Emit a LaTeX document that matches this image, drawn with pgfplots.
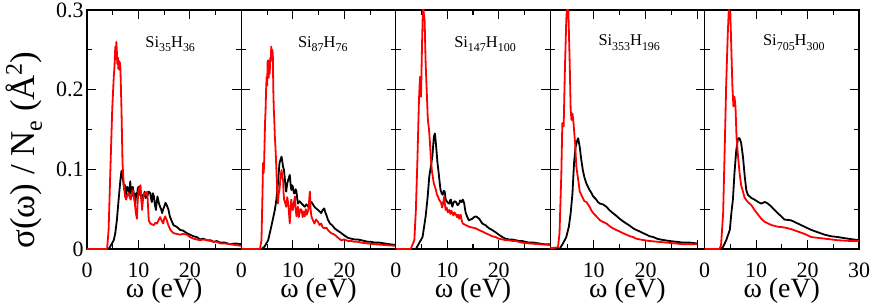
\documentclass[border=0pt]{standalone}
\usepackage{fontspec}
\setmainfont{Liberation Serif}
\newfontfamily\tnr{Liberation Serif}
\usepackage{pgfplots}
\pgfplotsset{compat=1.18}
\newcommand{\sub}[1]{\raisebox{-4.5bp}{\fontsize{12}{12}\selectfont #1}}
\pgfplotsset{panel/.style={
  scale only axis, width=154.4bp, height=239bp,
  xmin=0, xmax=30, ymin=0, ymax=0.3,
  xtick={0,10,20,30}, minor xtick={5,15,25},
  ytick={0,0.1,0.2,0.3}, minor ytick={0.05,0.15,0.25},
  yticklabels={},
  tick align=inside, major tick length=9bp, minor tick length=5bp,
  axis line style={line width=1.1bp},
  every tick/.style={black, line width=1.1bp},
  tick label style={font=\tnr\fontsize{22}{24}\selectfont},
  /pgf/number format/assume math mode=true,
  xticklabel style={anchor=base, yshift=-28bp},
  xlabel={\tnr ω (eV)},
  xlabel style={font=\tnr\fontsize{28}{30}\selectfont, at={(axis description cs:0.5,0)}, anchor=base, yshift=-48bp},
  anchor=south west,
  every axis plot/.append style={line width=1.8bp, line join=round},
}}
\begin{document}
\begin{tikzpicture}
% ---------- panel 1
\begin{axis}[panel, at={(0bp,0bp)},
  xticklabels={0,10,20,{}},
  yticklabels={0,0.1,0.2,0.3},
  ylabel={\tnr σ(ω) / N\raisebox{-7bp}{\fontsize{24}{24}\selectfont e} (Å\raisebox{13bp}{\fontsize{24}{24}\selectfont 2})},
  ylabel style={font=\tnr\fontsize{35}{38}\selectfont, at={(rel axis cs:-0.337,0.414)}, anchor=base},
]
\addplot[black] coordinates {(0,0) (4.2,0) (4.5,0.003) (5.2,0.011) (5.5,0.02) (5.8,0.036) (6.2,0.066) (6.5,0.087) (6.7,0.098) (7.0,0.087) (7.25,0.074) (7.4,0.08) (7.6,0.068) (7.85,0.078) (8.1,0.074) (8.25,0.07) (8.4,0.085) (8.55,0.072) (8.7,0.066) (8.9,0.078) (9.1,0.07) (9.25,0.062) (9.4,0.057) (9.55,0.07) (9.7,0.066) (9.85,0.075) (10.0,0.078) (10.2,0.068) (10.4,0.072) (10.55,0.064) (10.7,0.057) (10.85,0.068) (11.0,0.066) (11.2,0.072) (11.4,0.064) (11.7,0.066) (12.0,0.072) (12.3,0.07) (12.45,0.063) (12.6,0.059) (12.8,0.07) (13.0,0.066) (13.2,0.055) (13.4,0.049) (13.55,0.06) (13.7,0.066) (13.95,0.058) (14.2,0.053) (14.4,0.05) (14.6,0.045) (14.8,0.05) (15.0,0.053) (15.25,0.058) (15.5,0.055) (15.8,0.05) (16.1,0.041) (16.4,0.036) (16.8,0.030) (17.4,0.028) (18.1,0.024) (18.7,0.023) (19.4,0.020) (20.0,0.018) (20.7,0.016) (21.3,0.015) (22.0,0.012) (22.6,0.013) (23.3,0.011) (24.0,0.011) (24.6,0.009) (25.2,0.010) (25.9,0.008) (26.8,0.008) (27.8,0.006) (28.8,0.007) (30,0.006)};
\addplot[red] coordinates {(0,0) (3.9,0) (4.2,0.024) (4.5,0.09) (4.9,0.175) (5.2,0.216) (5.35,0.23) (5.5,0.254) (5.6,0.238) (5.7,0.26) (5.8,0.248) (5.9,0.232) (6.0,0.24) (6.1,0.226) (6.2,0.236) (6.3,0.225) (6.4,0.234) (6.5,0.226) (6.6,0.2) (6.7,0.175) (6.9,0.108) (7.1,0.085) (7.25,0.074) (7.4,0.066) (7.6,0.062) (7.85,0.068) (8.1,0.07) (8.3,0.065) (8.5,0.062) (8.7,0.07) (8.9,0.074) (9.1,0.066) (9.3,0.057) (9.5,0.045) (9.7,0.038) (9.85,0.06) (10.0,0.074) (10.2,0.078) (10.4,0.08) (10.55,0.065) (10.7,0.049) (10.85,0.06) (11.0,0.066) (11.15,0.07) (11.3,0.07) (11.5,0.068) (11.7,0.072) (11.85,0.055) (12.0,0.036) (12.3,0.032) (12.6,0.031) (13.0,0.030) (13.3,0.033) (13.6,0.032) (13.9,0.036) (14.2,0.040) (14.5,0.036) (14.8,0.032) (15.0,0.038) (15.2,0.041) (15.5,0.036) (15.8,0.03) (16.2,0.024) (16.5,0.022) (16.8,0.020) (17.4,0.019) (18.1,0.018) (18.7,0.019) (19.4,0.018) (20.0,0.015) (20.7,0.013) (21.3,0.012) (22.0,0.011) (22.6,0.012) (23.3,0.011) (24.0,0.010) (24.6,0.009) (25.2,0.009) (25.9,0.007) (26.8,0.007) (27.8,0.006) (28.8,0.005) (30,0.004)};
\node[anchor=base west, font=\tnr\fontsize{16.5}{18}\selectfont] at (rel axis cs:0.356,0.845) {Si\sub{35}H\sub{36}};
\end{axis}
% ---------- panel 2
\begin{axis}[panel, at={(154.4bp,0bp)},
  xticklabels={0,10,20,{}},
]
\addplot[black] coordinates {(0,0) (3.9,0) (4.5,0.003) (5.2,0.011) (5.8,0.028) (6.2,0.04) (6.5,0.049) (6.8,0.062) (7.1,0.082) (7.4,0.108) (7.6,0.112) (7.8,0.116) (7.95,0.11) (8.1,0.103) (8.25,0.1) (8.4,0.091) (8.55,0.08) (8.7,0.072) (8.9,0.082) (9.1,0.087) (9.25,0.09) (9.4,0.093) (9.55,0.082) (9.7,0.074) (9.85,0.08) (10.0,0.078) (10.2,0.07) (10.4,0.07) (10.55,0.075) (10.7,0.072) (10.85,0.063) (11.0,0.057) (11.3,0.06) (11.7,0.057) (12.0,0.055) (12.3,0.053) (12.6,0.056) (13.0,0.053) (13.3,0.057) (13.6,0.059) (13.9,0.056) (14.2,0.053) (14.5,0.051) (14.9,0.049) (15.2,0.047) (15.5,0.045) (15.8,0.049) (16.1,0.051) (16.3,0.046) (16.5,0.043) (16.8,0.037) (17.2,0.032) (17.6,0.03) (18.1,0.026) (18.7,0.023) (19.4,0.020) (20.0,0.017) (20.7,0.014) (21.3,0.013) (22.0,0.012) (22.6,0.012) (23.3,0.011) (24.0,0.010) (24.6,0.009) (25.2,0.009) (25.9,0.008) (26.8,0.008) (27.8,0.007) (28.8,0.006) (30,0.005)};
\addplot[red] coordinates {(0,0) (3.6,0) (3.9,0.011) (4.1,0.07) (4.2,0.108) (4.3,0.095) (4.4,0.104) (4.6,0.16) (4.7,0.175) (4.8,0.2) (4.9,0.216) (5.0,0.205) (5.1,0.235) (5.2,0.237) (5.3,0.215) (5.4,0.23) (5.5,0.22) (5.6,0.24) (5.7,0.235) (5.8,0.254) (5.9,0.24) (6.0,0.25) (6.1,0.246) (6.2,0.2) (6.3,0.175) (6.4,0.16) (6.5,0.141) (6.6,0.13) (6.7,0.116) (6.8,0.1) (6.9,0.082) (7.0,0.068) (7.1,0.057) (7.25,0.07) (7.4,0.074) (7.6,0.09) (7.8,0.099) (7.95,0.09) (8.1,0.087) (8.2,0.07) (8.3,0.062) (8.5,0.058) (8.7,0.053) (8.9,0.065) (9.1,0.057) (9.25,0.045) (9.4,0.032) (9.55,0.05) (9.7,0.062) (9.85,0.05) (10.0,0.049) (10.2,0.058) (10.4,0.066) (10.55,0.05) (10.7,0.041) (10.85,0.05) (11.0,0.053) (11.15,0.04) (11.3,0.045) (11.5,0.05) (11.7,0.049) (11.9,0.04) (12.1,0.047) (12.3,0.041) (12.5,0.05) (12.7,0.043) (13.0,0.049) (13.15,0.06) (13.3,0.072) (13.45,0.05) (13.6,0.041) (13.9,0.036) (14.2,0.032) (14.5,0.037) (14.9,0.034) (15.2,0.03) (15.5,0.032) (15.8,0.027) (16.2,0.026) (16.5,0.027) (16.8,0.024) (17.4,0.02) (18.1,0.018) (18.8,0.014) (19.4,0.011) (20.0,0.012) (20.7,0.010) (21.4,0.010) (22.0,0.009) (22.7,0.009) (23.3,0.008) (24.5,0.007) (25.9,0.006) (27.8,0.005) (30,0.004)};
\node[anchor=base west, font=\tnr\fontsize{16.5}{18}\selectfont] at (rel axis cs:0.344,0.845) {Si\sub{87}H\sub{76}};
\end{axis}
% ---------- panel 3
\begin{axis}[panel, at={(308.8bp,0bp)},
  xticklabels={0,10,20,{}},
]
\addplot[black] coordinates {(0,0) (3.9,0) (4.5,0.007) (5.2,0.015) (5.8,0.041) (6.2,0.066) (6.5,0.091) (6.8,0.103) (7.1,0.116) (7.4,0.141) (7.6,0.145) (7.75,0.135) (7.9,0.124) (8.1,0.108) (8.25,0.1) (8.4,0.091) (8.55,0.082) (8.7,0.074) (8.9,0.07) (9.1,0.068) (9.3,0.073) (9.5,0.072) (9.7,0.062) (9.9,0.06) (10.1,0.058) (10.4,0.057) (10.55,0.061) (10.7,0.062) (10.85,0.056) (11.0,0.053) (11.2,0.058) (11.4,0.06) (11.7,0.059) (12.0,0.055) (12.3,0.057) (12.5,0.061) (12.8,0.059) (13.0,0.062) (13.15,0.06) (13.3,0.057) (13.45,0.05) (13.6,0.045) (13.9,0.04) (14.2,0.036) (14.5,0.037) (14.9,0.038) (15.2,0.040) (15.5,0.041) (15.8,0.04) (16.2,0.038) (16.5,0.035) (16.8,0.032) (17.4,0.03) (18.1,0.026) (18.7,0.024) (19.4,0.021) (20.0,0.018) (20.7,0.015) (21.3,0.013) (22.0,0.012) (22.6,0.012) (23.3,0.011) (24.0,0.010) (24.6,0.010) (25.2,0.009) (25.9,0.008) (26.8,0.008) (27.8,0.007) (28.8,0.006) (30,0.006)};
\addplot[red] coordinates {(0,0) (2.9,0) (3.6,0.011) (3.9,0.049) (4.2,0.112) (4.5,0.187) (4.7,0.216) (4.9,0.191) (5.1,0.258) (5.3,0.31) (5.45,0.295) (5.6,0.287) (5.8,0.233) (6.0,0.2) (6.2,0.166) (6.3,0.158) (6.45,0.15) (6.6,0.137) (6.8,0.115) (7.0,0.099) (7.2,0.09) (7.4,0.082) (7.6,0.078) (7.8,0.074) (8.0,0.068) (8.2,0.066) (8.4,0.062) (8.6,0.06) (8.8,0.058) (9.0,0.052) (9.1,0.055) (9.25,0.06) (9.4,0.066) (9.55,0.055) (9.7,0.049) (9.9,0.052) (10.1,0.046) (10.4,0.049) (10.6,0.044) (10.8,0.048) (11.0,0.045) (11.2,0.042) (11.4,0.046) (11.7,0.043) (11.9,0.04) (12.1,0.043) (12.3,0.038) (12.45,0.042) (12.6,0.043) (12.8,0.036) (13.0,0.032) (13.3,0.031) (13.6,0.030) (13.9,0.029) (14.2,0.028) (14.8,0.027) (15.5,0.026) (16.1,0.024) (16.8,0.022) (17.4,0.02) (18.1,0.018) (18.7,0.016) (19.4,0.015) (20.0,0.013) (20.7,0.012) (21.4,0.011) (22.0,0.011) (22.7,0.010) (23.3,0.010) (24.5,0.008) (25.9,0.007) (27.8,0.006) (30,0.005)};
\node[anchor=base west, font=\tnr\fontsize{16.5}{18}\selectfont] at (rel axis cs:0.356,0.845) {Si\sub{147}H\sub{100}};
\end{axis}
% ---------- panel 4
\begin{axis}[panel, at={(463.2bp,0bp)},
  xmin=1.6, xmax=31.4,
  xtick={10,20,30}, xticklabels={10,20,{}},
]
\addplot[black] coordinates {(0,0) (3.4,0) (4.07,0.007) (4.7,0.015) (5.2,0.028) (5.55,0.045) (5.9,0.07) (6.2,0.108) (6.5,0.128) (6.85,0.137) (7.0,0.139) (7.3,0.128) (7.6,0.112) (7.9,0.099) (8.2,0.09) (8.6,0.082) (8.9,0.078) (9.2,0.074) (9.5,0.071) (9.9,0.066) (10.2,0.064) (10.5,0.062) (10.8,0.059) (11.2,0.057) (11.8,0.056) (12.45,0.053) (13.0,0.049) (13.7,0.045) (14.3,0.042) (15.0,0.038) (15.6,0.035) (16.3,0.032) (17.0,0.029) (17.6,0.026) (18.2,0.024) (18.9,0.022) (19.5,0.02) (20.2,0.018) (20.8,0.016) (21.5,0.015) (22.2,0.013) (22.8,0.012) (23.7,0.011) (24.7,0.010) (26.0,0.009) (27.3,0.008) (28.6,0.008) (29.9,0.007)};
\addplot[red] coordinates {(0,0) (3.1,0.002) (3.4,0.02) (3.75,0.095) (3.94,0.158) (4.2,0.154) (4.45,0.229) (4.7,0.287) (4.9,0.31) (5.1,0.30) (5.35,0.237) (5.55,0.175) (5.7,0.162) (5.9,0.17) (6.1,0.158) (6.4,0.133) (6.65,0.103) (7.0,0.087) (7.3,0.072) (7.6,0.068) (7.9,0.064) (8.2,0.06) (8.6,0.059) (8.9,0.056) (9.2,0.053) (9.5,0.049) (9.9,0.045) (10.2,0.043) (10.5,0.041) (10.8,0.039) (11.2,0.036) (11.8,0.034) (12.45,0.032) (13.0,0.029) (13.7,0.026) (14.3,0.024) (15.0,0.022) (15.6,0.02) (16.3,0.018) (17.0,0.016) (17.6,0.015) (18.2,0.013) (18.9,0.012) (19.8,0.011) (20.8,0.010) (22.5,0.009) (24.1,0.008) (25.7,0.007) (27.3,0.006) (29.9,0.006)};
\node[anchor=base west, font=\tnr\fontsize{16.5}{18}\selectfont] at (rel axis cs:0.29,0.85) {Si\sub{353}H\sub{196}};
\end{axis}
% ---------- panel 5
\begin{axis}[panel, at={(617.6bp,0bp)},
  xticklabels={0,10,20,30},
]
\addplot[black] coordinates {(0,0) (3.2,0) (3.6,0.003) (4.2,0.011) (4.9,0.024) (5.2,0.045) (5.5,0.062) (5.8,0.095) (6.15,0.124) (6.5,0.139) (6.8,0.139) (7.1,0.133) (7.45,0.116) (7.8,0.091) (8.1,0.074) (8.4,0.068) (9.1,0.064) (9.7,0.062) (10.4,0.059) (11.0,0.057) (11.7,0.059) (12.3,0.057) (13.0,0.053) (13.6,0.049) (14.2,0.045) (14.9,0.041) (15.5,0.037) (16.8,0.036) (18.1,0.032) (19.4,0.028) (20.7,0.024) (22.0,0.021) (23.3,0.018) (24.6,0.016) (25.9,0.015) (27.8,0.013) (30,0.011)};
\addplot[red] coordinates {(0,0) (2.9,0) (3.2,0.005) (3.6,0.045) (3.9,0.124) (4.2,0.208) (4.5,0.27) (4.7,0.3) (5.0,0.296) (5.2,0.25) (5.4,0.204) (5.6,0.179) (5.8,0.191) (6.0,0.179) (6.2,0.141) (6.5,0.116) (6.8,0.095) (7.1,0.080) (7.45,0.072) (7.8,0.064) (8.4,0.059) (9.1,0.055) (9.7,0.049) (10.4,0.043) (11.0,0.038) (11.7,0.034) (13.0,0.030) (14.2,0.028) (15.5,0.027) (16.8,0.025) (18.1,0.022) (19.4,0.019) (20.7,0.015) (22.0,0.014) (23.3,0.013) (25.9,0.011) (28.5,0.010) (30,0.010)};
\node[anchor=base west, font=\tnr\fontsize{16.5}{18}\selectfont] at (rel axis cs:0.356,0.85) {Si\sub{705}H\sub{300}};
\end{axis}
\pgfresetboundingbox
\useasboundingbox (-87bp,-57bp) rectangle (785bp,249bp);
\end{tikzpicture}
\end{document}
